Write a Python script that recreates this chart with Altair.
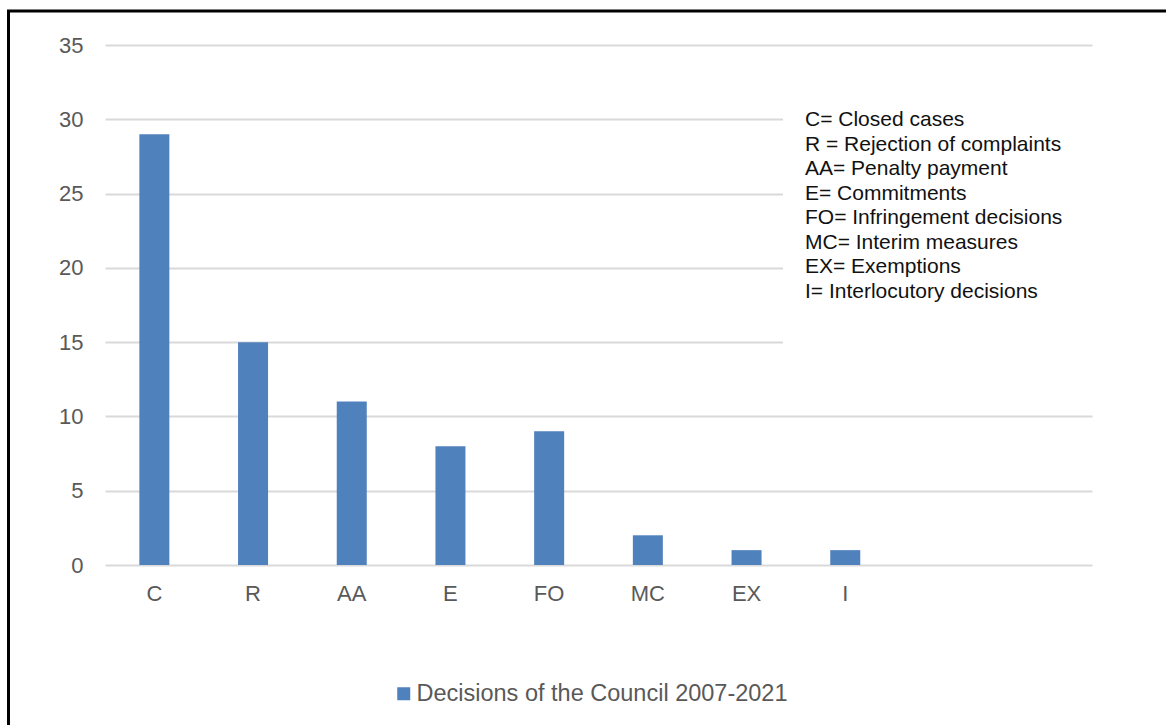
import altair as alt
import pandas as pd

# Decision types and their counts
categories = ["C", "R", "AA", "E", "FO", "MC", "EX", "I"]
counts = [29, 15, 11, 8, 9, 2, 1, 1]
# two unused slots keep the right end of the category axis empty
empty_slots = [" ", "  "]
series_name = "Decisions of the Council 2007-2021"

# Key explaining the abbreviations
key_lines = [
    "C= Closed cases",
    "R = Rejection of complaints",
    "AA= Penalty payment",
    "E= Commitments",
    "FO= Infringement  decisions",
    "MC= Interim measures",
    "EX= Exemptions",
    "I= Interlocutory  decisions",
]

FONT = "Liberation Sans"
BAR_COLOR = "#4F81BD"
GRID_COLOR = "#D9D9D9"
LABEL_COLOR = "#595959"

W, H = 987, 520
PAD = {"left": 105, "top": 45, "right": 74, "bottom": 160}

df = pd.DataFrame({"cat": categories, "n": counts, "series": series_name})
one = pd.DataFrame({"k": [0]})

bars = alt.Chart(df).mark_bar().encode(
    x=alt.X(
        "cat:N",
        scale=alt.Scale(domain=categories + empty_slots, paddingInner=0.696, paddingOuter=0.348),
        axis=alt.Axis(
            title=None, labelAngle=0, ticks=False, tickSize=0, domain=False, grid=False,
            labelFont=FONT, labelFontSize=22, labelColor=LABEL_COLOR, labelPadding=18,
        ),
    ),
    y=alt.Y(
        "n:Q",
        scale=alt.Scale(domain=[0, 35], nice=False),
        axis=alt.Axis(
            title=None, values=[0, 5, 10, 15, 20, 25, 30, 35], ticks=False, tickSize=0,
            domain=False, grid=True, gridColor=GRID_COLOR, gridWidth=2,
            labelFont=FONT, labelFontSize=22, labelColor=LABEL_COLOR, labelPadding=22,
        ),
    ),
    color=alt.Color(
        "series:N",
        scale=alt.Scale(range=[BAR_COLOR]),
        legend=alt.Legend(
            title=None, orient="none", legendX=287, legendY=637, padding=0,
            symbolType="square", symbolSize=169, symbolStrokeWidth=0, labelLimit=0,
            labelFont=FONT, labelFontSize=23.5, labelColor=LABEL_COLOR, labelOffset=1,
        ),
    ),
)

# white panel behind the key text
key_panel = alt.Chart(one).mark_rect(color="white").encode(
    x=alt.value(678), x2=alt.value(995), y=alt.value(55), y2=alt.value(308)
)

key_text = alt.Chart(one).mark_text(
    text="\n".join(key_lines), lineBreak="\n", lineHeight=24.5,
    align="left", baseline="top", font=FONT, fontSize=21, color="#111111",
).encode(x=alt.value(700), y=alt.value(64))

# black frame around the figure
frame = alt.Chart(one).mark_rect(fill=None, stroke="black", strokeWidth=3).encode(
    x=alt.value(-96.5), x2=alt.value(1200), y=alt.value(-34), y2=alt.value(800)
)

chart = alt.layer(bars, key_panel, key_text, frame).properties(
    width=W, height=H, padding=PAD, autosize=alt.AutoSizeParams(type="none"),
    background="white",
).configure_view(stroke=None)

chart.save("out.html", embed_options={"renderer": "svg", "actions": False})
